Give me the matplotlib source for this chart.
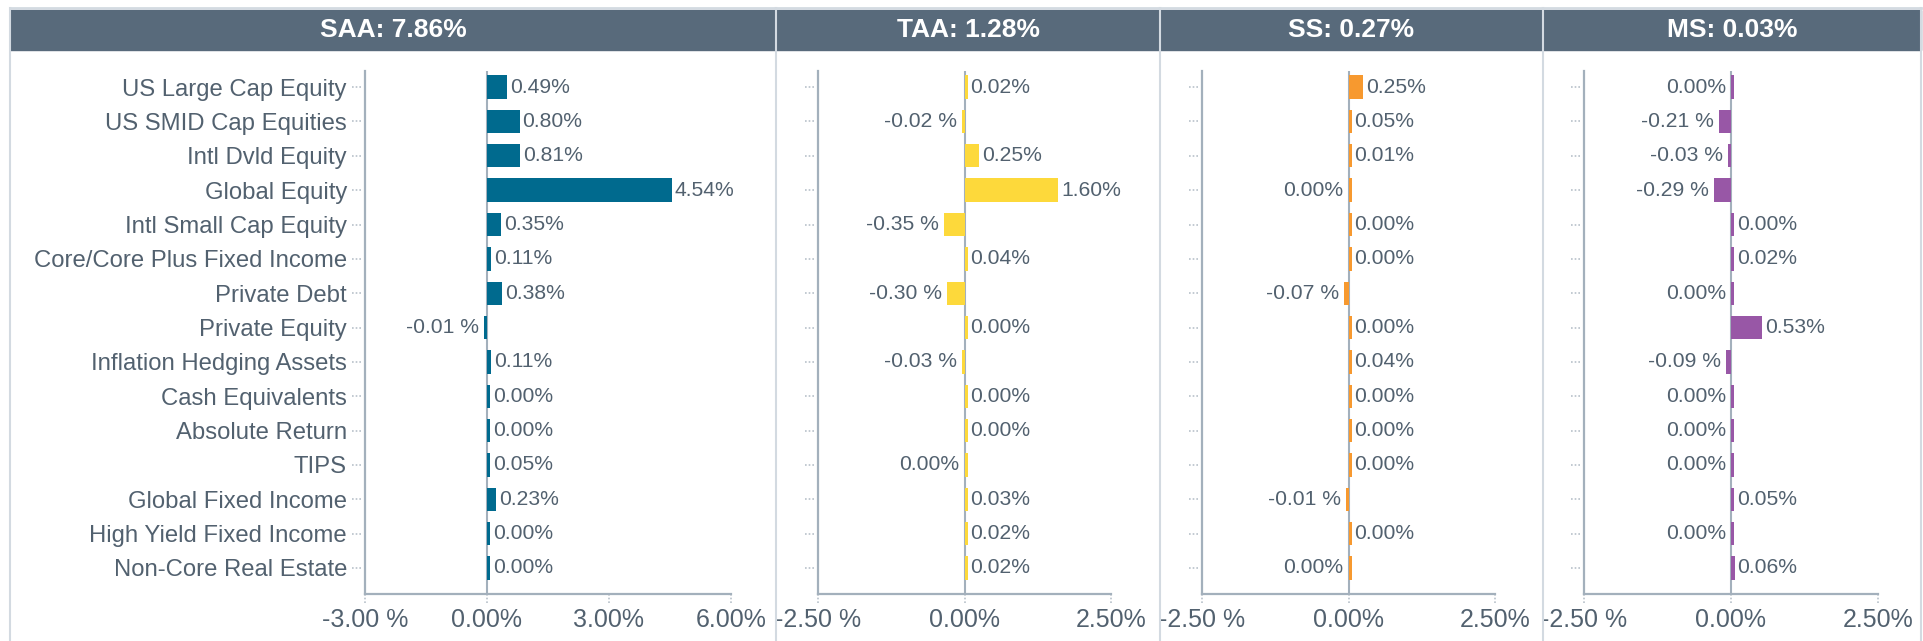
"""
Attribution breakdown: four horizontal bar panels (SAA / TAA / SS / MS).
"""

import matplotlib
matplotlib.use("Agg")
import matplotlib.pyplot as plt
import matplotlib.transforms as mtransforms
from matplotlib.lines import Line2D
from matplotlib.patches import Rectangle
import numpy as np

CATEGORIES = [
    "US Large Cap Equity",
    "US SMID Cap Equities",
    "Intl Dvld Equity",
    "Global Equity",
    "Intl Small Cap Equity",
    "Core/Core Plus Fixed Income",
    "Private Debt",
    "Private Equity",
    "Inflation Hedging Assets",
    "Cash Equivalents",
    "Absolute Return",
    "TIPS",
    "Global Fixed Income",
    "High Yield Fixed Income",
    "Non-Core Real Estate",
]

# -0.0 = tiny negative value that rounds to 0.00 (label sits on the left)
SAA = [0.49, 0.80, 0.81, 4.54, 0.35, 0.11, 0.38, -0.01, 0.11, 0.00, 0.00, 0.05, 0.23, 0.00, 0.00]
TAA = [0.02, -0.02, 0.25, 1.60, -0.35, 0.04, -0.30, 0.00, -0.03, 0.00, 0.00, -0.0, 0.03, 0.02, 0.02]
SS = [0.25, 0.05, 0.01, -0.0, 0.00, 0.00, -0.07, 0.00, 0.04, 0.00, 0.00, 0.00, -0.01, 0.00, -0.0]
MS = [-0.0, -0.21, -0.03, -0.29, 0.00, 0.02, -0.0, 0.53, -0.09, -0.0, -0.0, -0.0, 0.05, -0.0, 0.06]

PANEL_TITLES = ["SAA: 7.86%", "TAA: 1.28%", "SS: 0.27%", "MS: 0.03%"]
PANEL_VALUES = [SAA, TAA, SS, MS]
PANEL_XLIM = [(-3, 6), (-2.5, 2.5), (-2.5, 2.5), (-2.5, 2.5)]
PANEL_XTICKS = [[-3, 0, 3, 6], [-2.5, 0, 2.5], [-2.5, 0, 2.5], [-2.5, 0, 2.5]]
PANEL_COLORS = ["#006a8e", "#fdd93b", "#f7992f", "#9857a6"]

HEADER = "#586a7b"
FRAME = "#d3dae1"
AXIS = "#a3b0bc"
TEXT = "#52616f"
DOT = "#b8c1ca"

W, H = 1923, 641
# pixel layout: axes x-extent per panel, panel column edges
AX_X = [(365, 731), (818, 1111), (1202, 1495), (1584, 1878)]
AX_Y = (71, 594)
COLS = [10, 776, 1160, 1543, 1921]

plt.rcParams["font.family"] = ["Liberation Sans", "DejaVu Sans"]


def fmt(v):
    if v < 0 and round(v, 2) != 0:
        return f"{v:.2f} %"
    return f"{abs(v):.2f}%"


def _px(x, y):
    return x / W, 1 - y / H


fig = plt.figure(figsize=(W / 100, H / 100), dpi=100)
fig.patch.set_facecolor("white")

# header band + frame
fig.add_artist(Rectangle(_px(COLS[0], 50), (COLS[-1] - COLS[0]) / W, 40 / H,
                         transform=fig.transFigure, color=HEADER, zorder=0))
fig.add_artist(Line2D([COLS[0] / W, COLS[-1] / W], [1 - 8 / H] * 2,
                      transform=fig.transFigure, color=FRAME, lw=2))
for x in COLS:
    fig.add_artist(Line2D([x / W] * 2, [0, 1 - 8 / H], transform=fig.transFigure,
                          color=FRAME, lw=1.5, zorder=5))
for i, title in enumerate(PANEL_TITLES):
    cx = (COLS[i] + COLS[i + 1]) / 2
    fig.text(cx / W, 1 - 30 / H, title, ha="center", va="center",
             color="white", fontsize=19, fontweight="bold")

y_pos = np.arange(len(CATEGORIES))
for i, vals in enumerate(PANEL_VALUES):
    x0, x1 = AX_X[i]
    ax = fig.add_axes([x0 / W, 1 - AX_Y[1] / H, (x1 - x0) / W, (AX_Y[1] - AX_Y[0]) / H])
    lo, hi = PANEL_XLIM[i]
    units_per_px = (hi - lo) / (x1 - x0)
    minw = 3 * units_per_px

    widths = []
    for v in vals:
        if abs(v) < minw:
            widths.append(-minw if v < 0 else minw)
        else:
            widths.append(v)

    ax.axvline(0, color=AXIS, lw=1.5, zorder=2)
    ax.barh(y_pos, widths, height=0.68, color=PANEL_COLORS[i], zorder=3)

    for y, v, w in zip(y_pos, vals, widths):
        if np.signbit(v):
            ax.annotate(fmt(v), xy=(min(w, 0), y), xytext=(-5, 0), textcoords="offset pixels",
                        ha="right", va="center", fontsize=15.2, color=TEXT)
        else:
            ax.annotate(fmt(v), xy=(max(w, 0), y), xytext=(3, 0), textcoords="offset pixels",
                        ha="left", va="center", fontsize=15.2, color=TEXT)

    ax.set_xlim(lo, hi)
    ax.set_ylim(len(CATEGORIES) - 0.24, -0.47)
    ax.set_xticks(PANEL_XTICKS[i])
    ax.set_xticklabels([fmt(t) for t in PANEL_XTICKS[i]], fontsize=18, color=TEXT)
    ax.set_yticks(y_pos)
    if i == 0:
        ax.set_yticklabels(CATEGORIES, fontsize=17.2, color=TEXT)
    else:
        ax.set_yticklabels([])
    ax.tick_params(axis="x", length=0, pad=10)
    ax.tick_params(axis="y", length=0, pad=13)

    for side in ["top", "right"]:
        ax.spines[side].set_visible(False)
    for side in ["left", "bottom"]:
        ax.spines[side].set_color(AXIS)
        ax.spines[side].set_linewidth(1.6)

    # dotted tick marks drawn by hand
    ax_w = x1 - x0
    ax_h = AX_Y[1] - AX_Y[0]
    ytr = mtransforms.blended_transform_factory(ax.transAxes, ax.transData)
    for y in y_pos:
        ax.add_line(Line2D([-13 / ax_w, -3 / ax_w], [y, y], transform=ytr, color=DOT,
                           lw=1.2, ls=(0, (1, 1.2)), clip_on=False))
    xtr = mtransforms.blended_transform_factory(ax.transData, ax.transAxes)
    for t in PANEL_XTICKS[i]:
        ax.add_line(Line2D([t, t], [0, -10 / ax_h], transform=xtr, color=DOT,
                           lw=1.2, ls=(0, (1, 1.2)), clip_on=False))

fig.savefig("out.png", dpi=100, facecolor="white")
